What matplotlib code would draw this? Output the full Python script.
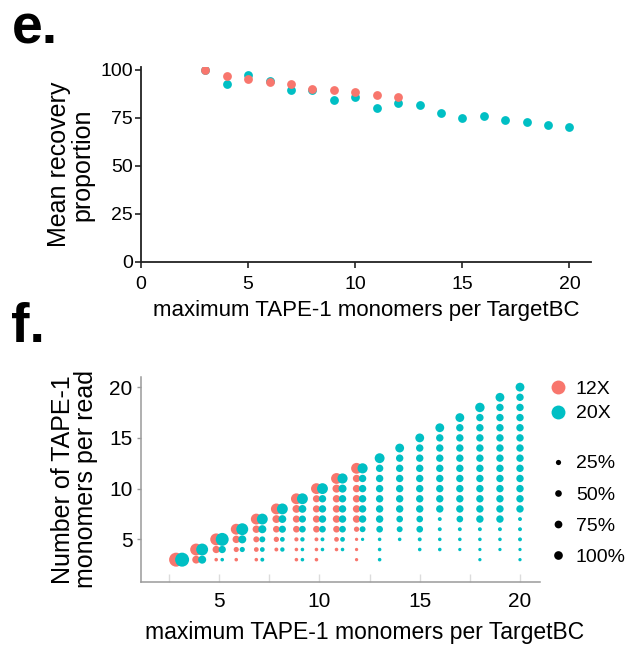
import numpy as np
import matplotlib
matplotlib.use("Agg")
import matplotlib.pyplot as plt
from matplotlib.lines import Line2D

plt.rcParams["font.family"] = ["Liberation Sans", "DejaVu Sans"]

RED = "#F8766D"
CYAN = "#00BFC4"

# ------------------------------------------------------------------
# Panel e: mean recovery per max monomer count
# ------------------------------------------------------------------
max_monomers = list(range(3, 21))
recovery_12x = [100, 96.7, 95.3, 93.9, 92.7, 89.9, 89.5, 88.7, 87.1, 85.9]
recovery_20x = [100, 92.9, 97.4, 94.0, 89.7, 89.8, 84.1, 86.1, 80.3, 82.9,
                81.7, 77.4, 75.1, 76.1, 73.9, 72.8, 71.1, 70.4]

# ------------------------------------------------------------------
# Panel f: % of reads at each monomer count (k = 3 .. m), per max m
# None = no reads at that count
# ------------------------------------------------------------------
reads_12x = {
    3: [100],
    4: [20, 66],
    5: [0.5, 16, 66],
    6: [0.5, 4.5, 17, 52],
    7: [0.5, 3, 8, 17, 52],
    8: [None, 1, 5, 12, 20, 52],
    9: [0.5, 0.5, 1.5, 12, 15, 20, 52],
    10: [0.5, 0.5, 1, 12, 15, 15, 15, 52],
    11: [None, 0.5, 3, 12, 17, 17, 17, 22, 52],
    12: [0.2, 0.2, 0.2, 5, 17, 17, 17, 17, 17, 52],
}
reads_20x = {
    3: [100],
    4: [22, 66],
    5: [0.5, 16, 82],
    6: [None, 4.5, 22, 66],
    7: [1, 3, 8, 22, 52],
    8: [None, 2, 3, 15, 20, 52],
    9: [0.5, 0.5, 2, 12, 15, 20, 52],
    10: [None, 0.5, 1, 12, 17, 17, 17, 52],
    11: [None, 0.5, 3, 12, 17, 17, 17, 22, 43],
    12: [None, None, 0.2, 8, 17, 17, 17, 17, 17, 43],
    13: [0.5, 0.5, 0.5, 12, 17, 17, 17, 17, 17, 17, 40],
    14: [None, None, 0.5, 8, 12, 17, 17, 17, 17, 17, 17, 29],
    15: [None, 0.5, 1, 12, 12, 17, 17, 17, 17, 17, 17, 17, 29],
    16: [None, 0.5, 0.5, 1, 1, 17, 17, 17, 17, 17, 17, 17, 17, 29],
    17: [None, 0.2, 0.5, 1, 12, 17, 17, 17, 17, 17, 17, 17, 17, 17, 29],
    18: [0.2, 0.2, 0.5, 1, 17, 17, 17, 17, 17, 17, 17, 17, 17, 17, 17, 35],
    19: [None, 0.2, 0.5, 1, 17, 17, 17, 17, 17, 17, 17, 17, 17, 17, 17, 17, 29],
    20: [0.2, 0.2, 1, 1, 1, 17, 17, 17, 17, 17, 17, 17, 17, 17, 17, 17, 17, 29],
}
size_breaks = [25, 50, 75, 100]
size_labels = ["25%", "50%", "75%", "100%"]


def marker_area(pct):
    # ggplot-like area scale: diameter grows with sqrt of the value
    diam_px = 2.8 + 11.2 * np.sqrt(np.asarray(pct, dtype=float) / 100)
    return (diam_px * 0.72) ** 2


def flatten(table, shift):
    xs, ys, vals = [], [], []
    for m, row in table.items():
        for k, v in enumerate(row, start=3):
            if v is None:
                continue
            xs.append(m + shift)
            ys.append(k)
            vals.append(v)
    return xs, ys, vals


fig = plt.figure(figsize=(6.34, 6.45), dpi=100)

# ---- panel e ----
ax_e = fig.add_axes([0.2224, 0.594, 0.7096, 0.302])
ax_e.scatter(max_monomers, recovery_20x, s=40, color=CYAN, lw=0, zorder=3)
ax_e.scatter(max_monomers[:len(recovery_12x)], recovery_12x, s=40, color=RED,
             lw=0, zorder=4)
ax_e.set_xlim(0, 21)
ax_e.set_ylim(0, 101.5)
ax_e.set_xticks([0, 5, 10, 15, 20])
ax_e.set_yticks([0, 25, 50, 75, 100])
for side in ("top", "right"):
    ax_e.spines[side].set_visible(False)
for side in ("left", "bottom"):
    ax_e.spines[side].set_linewidth(1.3)
    ax_e.spines[side].set_color("#222222")
ax_e.tick_params(labelsize=14, length=4, width=1.2, color="#222222", pad=2)
ax_e.tick_params(axis="x", pad=6)
ax_e.set_xlabel("maximum TAPE-1 monomers per TargetBC", fontsize=16, labelpad=5)
ax_e.set_ylabel("Mean recovery\nproportion", fontsize=18, labelpad=4,
                linespacing=0.95)

# ---- panel f ----
ax_f = fig.add_axes([0.2224, 0.0977, 0.6294, 0.3178])
x12, y12, v12 = flatten(reads_12x, -0.15)
x20, y20, v20 = flatten(reads_20x, 0.0)
# dodge cyan right only where both series are present
x20 = [x + 0.15 if x <= 12 else x for x in x20]
ax_f.scatter(x12, y12, s=marker_area(v12), color=RED, lw=0, zorder=3)
ax_f.scatter(x20, y20, s=marker_area(v20), color=CYAN, lw=0, zorder=4)
ax_f.set_xlim(1.1, 21.0)
ax_f.set_ylim(0.8, 21.0)
ax_f.set_xticks([5, 10, 15, 20])
ax_f.set_xticks([2.5, 7.5, 12.5, 17.5], minor=True)
ax_f.set_yticks([5, 10, 15, 20])
for side in ("top", "right"):
    ax_f.spines[side].set_visible(False)
for side in ("left", "bottom"):
    ax_f.spines[side].set_linewidth(1.1)
    ax_f.spines[side].set_color("#9a9a9a")
ax_f.tick_params(axis="y", labelsize=15, length=3, width=1, color="#9a9a9a",
                 pad=3)
# faint inward marks along the x axis
ax_f.tick_params(axis="x", which="both", direction="in", length=6, width=1,
                 color="#dcdcdc", labelsize=15, pad=7)
ax_f.set_xlabel("maximum TAPE-1 monomers per TargetBC", fontsize=16.5)
ax_f.xaxis.set_label_coords(0.561, -0.19)
ax_f.set_ylabel("Number of TAPE-1\nmonomers per read", fontsize=18,
                labelpad=8, linespacing=0.95)

color_handles = [
    Line2D([], [], ls="", marker="o", ms=10, mec="none", color=RED),
    Line2D([], [], ls="", marker="o", ms=10, mec="none", color=CYAN),
]
leg1 = ax_f.legend(color_handles, ["12X", "20X"], loc="upper left",
                   bbox_to_anchor=(0.856, 0.422), bbox_transform=fig.transFigure,
                   frameon=False, fontsize=14, handlelength=0.8,
                   handletextpad=0.5, labelspacing=0.34, borderaxespad=0)
ax_f.add_artist(leg1)

legend_shrink = 0.62
size_handles = [
    Line2D([], [], ls="", marker="o", mec="none", color="black",
           ms=np.sqrt(marker_area(b)) * legend_shrink)
    for b in size_breaks
]
ax_f.legend(size_handles, size_labels, loc="upper left",
            bbox_to_anchor=(0.856, 0.307), bbox_transform=fig.transFigure,
            frameon=False, fontsize=14, handlelength=0.8,
            handletextpad=0.5, labelspacing=0.7, borderaxespad=0)

fig.text(0.018, 0.932, "e.", fontsize=40, fontweight="bold")
fig.text(0.018, 0.47, "f.", fontsize=40, fontweight="bold")

fig.savefig("out.png", dpi=100)
